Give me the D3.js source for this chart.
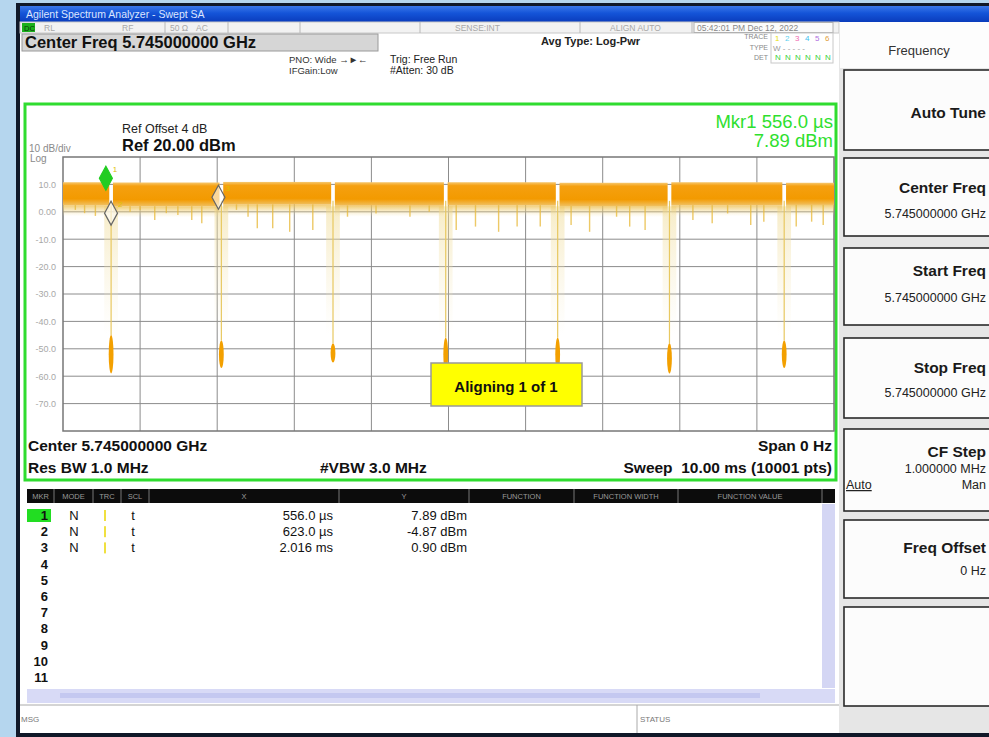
<!DOCTYPE html>
<html>
<head>
<meta charset="utf-8">
<script src="https://cdn.jsdelivr.net/npm/d3@7"></script>
<style>
  body { margin: 0; background: #b5d6ee; }
  svg { display: block; font-family: "Liberation Sans", Arial, sans-serif; }
</style>
</head>
<body>
<script>

// time axis (ms) and level axis (dBm)
var yTickValues = [10, 0, -10, -20, -30, -40, -50, -60, -70];
var yTickLabels = ["10.0", "0.00", "-10.0", "-20.0", "-30.0", "-40.0", "-50.0", "-60.0", "-70.0"];

// burst gaps (ms), level at the bottom of each gap (dBm)
var gapStart = [0.600, 2.030, 3.478, 4.940, 6.392, 7.842, 9.330];
var gapEnd   = [0.648, 2.078, 3.526, 4.988, 6.440, 7.890, 9.378];
var gapBlobTop = [-45, -47, -48, -46, -46, -48, -47];
var gapFloor   = [-59, -57, -55, -58, -58, -59, -57];

// level of the burst band between gaps (dBm)
var bandTop    = [10.8, 10.7, 10.9, 10.8, 10.8, 10.6, 10.8, 10.6];
var bandBottom = [2.4, 2.0, 2.6, 2.2, 2.4, 2.1, 2.4, 2.5];

// downward noise spikes (ms, dBm)
var spikeTime  = [0.16, 0.28, 0.42, 0.87, 1.00, 1.19, 1.34, 1.49, 1.67, 1.80, 2.25, 2.40, 2.52, 2.72, 2.94, 3.24,
                  3.69, 4.06, 4.50, 4.75, 5.10, 5.35, 5.65, 5.89, 6.19, 6.59, 6.83, 7.18, 7.35, 7.55, 8.17, 8.42,
                  8.62, 8.92, 9.09, 9.51, 9.71, 9.86];
var spikeLevel = [0.7, -0.5, -1.5, 0.0, 0.7, -3.0, -0.5, -1.2, -3.0, -4.2, 0.7, -1.8, -6.0, -6.0, -7.3, -6.6,
                  -1.8, -0.6, -1.8, 0.0, -6.6, -5.4, -7.3, -5.4, -5.4, -4.8, -7.3, -1.8, -5.4, -6.6, -3.0, -4.2,
                  -0.6, -4.8, -3.6, -5.4, -3.6, -4.8];

// markers
var mkrNumber = ["1", "2", "3"];
var mkrTime   = [0.556, 0.623, 2.016];
var mkrLevel  = [7.89, -4.87, 0.90];
var mkrXText  = ["556.0 \u00b5s", "623.0 \u00b5s", "2.016 ms"];
var mkrYText  = ["7.89 dBm", "-4.87 dBm", "0.90 dBm"];

// soft keys on the right
var keyLabels = ["Auto Tune", "Center Freq", "Start Freq", "Stop Freq", "CF Step", "Freq Offset", ""];
var keyValues = ["", "5.745000000 GHz", "5.745000000 GHz", "5.745000000 GHz", "1.000000 MHz", "0 Hz", ""];

var W = 989, H = 737;

var svg = d3.select("body").append("svg")
  .attr("width", W)
  .attr("height", H);

var defs = svg.append("defs");
var tg = defs.append("linearGradient").attr("id", "titleGrad")
  .attr("x1", 0).attr("y1", 0).attr("x2", 0).attr("y2", 1);
tg.append("stop").attr("offset", "0%").attr("stop-color", "#3a78ea");
tg.append("stop").attr("offset", "45%").attr("stop-color", "#1454d8");
tg.append("stop").attr("offset", "100%").attr("stop-color", "#0a3cbc");

var bg = defs.append("linearGradient").attr("id", "bandGrad")
  .attr("x1", 0).attr("y1", 0).attr("x2", 0).attr("y2", 1);
bg.append("stop").attr("offset", "0%").attr("stop-color", "#f6c870");
bg.append("stop").attr("offset", "15%").attr("stop-color", "#f5a010");
bg.append("stop").attr("offset", "72%").attr("stop-color", "#f39a00");
bg.append("stop").attr("offset", "100%").attr("stop-color", "#f0c060");

var fg = defs.append("linearGradient").attr("id", "fadeGrad")
  .attr("x1", 0).attr("y1", 0).attr("x2", 0).attr("y2", 1);
fg.append("stop").attr("offset", "0%").attr("stop-color", "#eec050").attr("stop-opacity", 0.8);
fg.append("stop").attr("offset", "100%").attr("stop-color", "#f2e0a0").attr("stop-opacity", 0);

var hg = defs.append("linearGradient").attr("id", "haloGrad")
  .attr("x1", 0).attr("y1", 0).attr("x2", 0).attr("y2", 1);
hg.append("stop").attr("offset", "0%").attr("stop-color", "#f0dc98").attr("stop-opacity", 0.55);
hg.append("stop").attr("offset", "100%").attr("stop-color", "#f4e8c0").attr("stop-opacity", 0);

// window frame
svg.append("rect").attr("x", 16).attr("y", 3).attr("width", W - 16).attr("height", H - 3).attr("fill", "#101828");
svg.append("rect").attr("x", 20).attr("y", 6).attr("width", W - 20).attr("height", 16).attr("fill", "url(#titleGrad)");
svg.append("text").attr("x", 26).attr("y", 18).attr("font-size", 10.5).attr("fill", "#dce6ff")
  .text("Agilent Spectrum Analyzer - Swept SA");

// main white area
svg.append("rect").attr("x", 20).attr("y", 22).attr("width", 819).attr("height", 711).attr("fill", "#ffffff");

// status row
svg.append("rect").attr("x", 20).attr("y", 22).attr("width", 819).attr("height", 11).attr("fill", "#f2f2f2")
  .attr("stroke", "#c8c8c8");
svg.append("rect").attr("x", 22).attr("y", 23).attr("width", 13).attr("height", 9).attr("fill", "#1bb01b");
svg.append("text").attr("x", 24).attr("y", 31).attr("font-size", 7.5).attr("fill", "#0a3a0a").text("DC");
var statusText = [["RL", 44], ["RF", 122], ["50 \u03a9", 170], ["AC", 196], ["SENSE:INT", 455], ["ALIGN AUTO", 610]];
statusText.forEach(function(s) {
  svg.append("text").attr("x", s[1]).attr("y", 31).attr("font-size", 8.5).attr("fill", "#a8a8a8").text(s[0]);
});
[165, 228, 300, 420, 580, 692].forEach(function(sx) {
  svg.append("line").attr("x1", sx).attr("x2", sx).attr("y1", 22).attr("y2", 33).attr("stroke", "#b8b8b8");
});
svg.append("rect").attr("x", 694).attr("y", 22.5).attr("width", 139).attr("height", 10).attr("fill", "#fbfbfb")
  .attr("stroke", "#b0b0b0");
svg.append("text").attr("x", 697).attr("y", 31).attr("font-size", 8.5).attr("fill", "#888")
  .text("05:42:01 PM Dec 12, 2022");

// center freq box
svg.append("rect").attr("x", 22).attr("y", 34).attr("width", 356).attr("height", 17).attr("fill", "#d6d6d6")
  .attr("stroke", "#9a9a9a");
svg.append("text").attr("x", 25).attr("y", 48).attr("font-size", 16.5).attr("font-weight", "bold").attr("fill", "#111")
  .text("Center Freq 5.745000000 GHz");

svg.append("text").attr("x", 289).attr("y", 63).attr("font-size", 9.5).attr("fill", "#333").text("PNO: Wide \u2192\u25ba\u2190");
svg.append("text").attr("x", 289).attr("y", 74).attr("font-size", 9.5).attr("fill", "#333").text("IFGain:Low");
svg.append("text").attr("x", 390).attr("y", 63).attr("font-size", 10.5).attr("fill", "#222").text("Trig: Free Run");
svg.append("text").attr("x", 390).attr("y", 74).attr("font-size", 10.5).attr("fill", "#222").text("#Atten: 30 dB");
svg.append("text").attr("x", 541).attr("y", 45).attr("font-size", 11).attr("font-weight", "bold").attr("fill", "#222")
  .text("Avg Type: Log-Pwr");

// trace / type / det block
[["TRACE", 39], ["TYPE", 50], ["DET", 60]].forEach(function(t) {
  svg.append("text").attr("x", 768).attr("y", t[1]).attr("font-size", 7).attr("text-anchor", "end")
    .attr("fill", "#888").text(t[0]);
});
svg.append("rect").attr("x", 771).attr("y", 33).attr("width", 62).attr("height", 30).attr("fill", "#fff")
  .attr("stroke", "#c8c8c8");
var traceColors = ["#e8e000", "#5ad0f0", "#f06ab0", "#40c0f0", "#b070e0", "#e0a040"];
traceColors.forEach(function(c, i) {
  svg.append("text").attr("x", 775 + i * 10).attr("y", 41).attr("font-size", 8).attr("fill", c).text(i + 1);
  svg.append("text").attr("x", 775 + i * 10).attr("y", 60).attr("font-size", 8).attr("fill", "#40d040").text("N");
});
svg.append("text").attr("x", 773).attr("y", 51).attr("font-size", 8).attr("fill", "#999").text("W   - - - - -");

// plot frame (green)
svg.append("rect").attr("x", 25).attr("y", 104).attr("width", 811).attr("height", 376)
  .attr("fill", "#fff").attr("stroke", "#2fdc2f").attr("stroke-width", 3);

svg.append("text").attr("x", 122).attr("y", 133).attr("font-size", 12.5).attr("fill", "#222").text("Ref Offset 4 dB");
svg.append("text").attr("x", 122).attr("y", 151).attr("font-size", 16.5).attr("font-weight", "bold").attr("fill", "#111")
  .text("Ref 20.00 dBm");
svg.append("text").attr("x", 29).attr("y", 152).attr("font-size", 10).attr("fill", "#8a8a8a").text("10 dB/div");
svg.append("text").attr("x", 30).attr("y", 162).attr("font-size", 10).attr("fill", "#8a8a8a").text("Log");

svg.append("text").attr("x", 833).attr("y", 128).attr("font-size", 18.5).attr("text-anchor", "end")
  .attr("fill", "#2ee02e").text("Mkr1 556.0 \u00b5s");
svg.append("text").attr("x", 833).attr("y", 147).attr("font-size", 18.5).attr("text-anchor", "end")
  .attr("fill", "#2ee02e").text("7.89 dBm");

// scales
var x = d3.scaleLinear().domain([0, 10]).range([63, 834]);
var y = d3.scaleLinear().domain([20, -80]).range([157, 431]);

// graticule
var grid = svg.append("g");
grid.selectAll(".vl").data(x.ticks(10).slice(1, -1)).enter().append("line")
  .attr("x1", function(d) { return x(d); }).attr("x2", function(d) { return x(d); })
  .attr("y1", y(20)).attr("y2", y(-80)).attr("stroke", "#8c8c8c").attr("stroke-width", 1);
grid.selectAll(".hl").data(yTickValues).enter().append("line")
  .attr("x1", x(0)).attr("x2", x(10))
  .attr("y1", function(d) { return y(d); }).attr("y2", function(d) { return y(d); })
  .attr("stroke", "#8c8c8c").attr("stroke-width", 1);
grid.append("rect").attr("x", x(0)).attr("y", y(20)).attr("width", x(10) - x(0)).attr("height", y(-80) - y(20))
  .attr("fill", "none").attr("stroke", "#777").attr("stroke-width", 1.5);

var yAxis = svg.append("g")
  .attr("transform", "translate(" + (x(0) - 4) + ",0)")
  .call(d3.axisLeft(y).tickValues(yTickValues).tickSize(0)
    .tickFormat(function(d, i) { return yTickLabels[i]; }));
yAxis.select(".domain").remove();
yAxis.selectAll("text").attr("fill", "#a8a8a8").attr("font-size", 9)
  .attr("font-family", "\"Liberation Sans\", Arial, sans-serif");

// trace
var trace = svg.append("g");
var segStart = [0].concat(gapEnd);
var segEnd = gapStart.concat([10]);

// soft halos around gaps
trace.selectAll(".halo").data(gapStart).enter().append("rect")
  .attr("x", function(d, i) { return x(d) - 5; })
  .attr("width", function(d, i) { return x(gapEnd[i]) - x(d) + 10; })
  .attr("y", y(2))
  .attr("height", function(d, i) { return y(-45) - y(2); })
  .attr("fill", "url(#haloGrad)");

// fade under the band
trace.selectAll(".fade").data(segStart).enter().append("rect")
  .attr("x", function(d) { return x(d); })
  .attr("width", function(d, i) { return x(segEnd[i]) - x(d); })
  .attr("y", function(d, i) { return y(bandBottom[i]); })
  .attr("height", function(d, i) { return y(bandBottom[i] - 4) - y(bandBottom[i]); })
  .attr("fill", "url(#fadeGrad)");

// spikes
trace.selectAll(".spike").data(spikeTime).enter().append("line")
  .attr("x1", function(d) { return x(d); }).attr("x2", function(d) { return x(d); })
  .attr("y1", y(3)).attr("y2", function(d, i) { return y(spikeLevel[i]); })
  .attr("stroke", "#e9bc40").attr("stroke-width", 1.4).attr("opacity", 0.8);

// band
trace.selectAll(".band").data(segStart).enter().append("rect")
  .attr("x", function(d) { return x(d); })
  .attr("width", function(d, i) { return x(segEnd[i]) - x(d); })
  .attr("y", function(d, i) { return y(bandTop[i]); })
  .attr("height", function(d, i) { return y(bandBottom[i]) - y(bandTop[i]); })
  .attr("fill", "url(#bandGrad)");

// thin drop into each gap
trace.selectAll(".drop").data(gapStart).enter().append("line")
  .attr("x1", function(d, i) { return x((d + gapEnd[i]) / 2); })
  .attr("x2", function(d, i) { return x((d + gapEnd[i]) / 2); })
  .attr("y1", y(4)).attr("y2", function(d, i) { return y(gapBlobTop[i]); })
  .attr("stroke", "#e8c860").attr("stroke-width", 1.2);

// orange blob at the bottom of each gap
trace.selectAll(".blob").data(gapStart).enter().append("ellipse")
  .attr("cx", function(d, i) { return x((d + gapEnd[i]) / 2); })
  .attr("cy", function(d, i) { return (y(gapBlobTop[i]) + y(gapFloor[i])) / 2; })
  .attr("rx", 2.4)
  .attr("ry", function(d, i) { return (y(gapFloor[i]) - y(gapBlobTop[i])) / 2; })
  .attr("fill", "#f3a000");

// markers
var mk = svg.append("g");
mkrTime.forEach(function(t, i) {
  var px = x(t), py = y(mkrLevel[i]);
  var path = "M" + px + "," + py + " L" + (px - 6.5) + "," + (py - 12) + " L" + px + "," + (py - 24)
    + " L" + (px + 6.5) + "," + (py - 12) + " Z";
  mk.append("path").attr("d", path)
    .attr("fill", i === 0 ? "#22cc22" : "#ffffff")
    .attr("fill-opacity", i === 0 ? 1 : 0.6)
    .attr("stroke", i === 0 ? "#22cc22" : "#666")
    .attr("stroke-width", 1.2);
  mk.append("text").attr("x", px + 7).attr("y", py - 18).attr("font-size", 8).attr("fill", "#e0c000")
    .text(mkrNumber[i]);
});

// aligning message
svg.append("rect").attr("x", 431).attr("y", 363).attr("width", 151).attr("height", 43)
  .attr("fill", "#ffff00").attr("stroke", "#999").attr("stroke-width", 1.5);
svg.append("text").attr("x", 506).attr("y", 392).attr("text-anchor", "middle").attr("font-size", 15)
  .attr("font-weight", "bold").attr("fill", "#111").text("Aligning 1 of 1");

// bottom annotations
svg.append("text").attr("x", 28).attr("y", 451).attr("font-size", 15.5).attr("font-weight", "bold").attr("fill", "#111")
  .text("Center 5.745000000 GHz");
svg.append("text").attr("x", 28).attr("y", 473).attr("font-size", 15.5).attr("font-weight", "bold").attr("fill", "#111")
  .text("Res BW 1.0 MHz");
svg.append("text").attr("x", 320).attr("y", 473).attr("font-size", 15.5).attr("font-weight", "bold").attr("fill", "#111")
  .text("#VBW 3.0 MHz");
svg.append("text").attr("x", 832).attr("y", 451).attr("font-size", 15.5).attr("font-weight", "bold").attr("text-anchor", "end")
  .attr("fill", "#111").text("Span 0 Hz");
svg.append("text").attr("x", 832).attr("y", 473).attr("font-size", 15.5).attr("font-weight", "bold").attr("text-anchor", "end")
  .attr("fill", "#111").attr("xml:space", "preserve").text("Sweep  10.00 ms (10001 pts)");

// marker table
var colEdges = [27, 54, 93, 121, 149, 339, 469, 574, 678, 822];
var colNames = ["MKR", "MODE", "TRC", "SCL", "X", "Y", "FUNCTION", "FUNCTION WIDTH", "FUNCTION VALUE"];
svg.append("rect").attr("x", 27).attr("y", 489).attr("width", 808).attr("height", 14).attr("fill", "#0c0c0c");
colNames.forEach(function(c, i) {
  svg.append("line").attr("x1", colEdges[i + 1]).attr("x2", colEdges[i + 1]).attr("y1", 489).attr("y2", 503)
    .attr("stroke", "#777");
  svg.append("text").attr("x", (colEdges[i] + colEdges[i + 1]) / 2).attr("y", 499).attr("text-anchor", "middle")
    .attr("font-size", 7.5).attr("fill", "#9a9a9a").text(c);
});

var rowY = d3.scaleLinear().domain([1, 11]).range([520, 682]);
svg.append("rect").attr("x", 27).attr("y", rowY(1) - 11).attr("width", 24).attr("height", 13).attr("fill", "#22dd22");
d3.range(1, 12).forEach(function(n) {
  svg.append("text").attr("x", 48).attr("y", rowY(n)).attr("text-anchor", "end").attr("font-size", 13)
    .attr("font-weight", "bold").attr("fill", "#111").text(n);
});
mkrXText.forEach(function(t, i) {
  var ry = rowY(i + 1);
  svg.append("text").attr("x", 74).attr("y", ry).attr("text-anchor", "middle").attr("font-size", 13).attr("fill", "#111").text("N");
  svg.append("rect").attr("x", 104).attr("y", ry - 10).attr("width", 2).attr("height", 11).attr("fill", "#f0e040");
  svg.append("text").attr("x", 133).attr("y", ry).attr("text-anchor", "middle").attr("font-size", 13).attr("fill", "#111").text("t");
  svg.append("text").attr("x", 333).attr("y", ry).attr("text-anchor", "end").attr("font-size", 13).attr("fill", "#111").text(t);
  svg.append("text").attr("x", 467).attr("y", ry).attr("text-anchor", "end").attr("font-size", 13).attr("fill", "#111").text(mkrYText[i]);
});

// scroll bars
svg.append("rect").attr("x", 822).attr("y", 504).attr("width", 13).attr("height", 184).attr("fill", "#d4d6f4");
svg.append("rect").attr("x", 27).attr("y", 689).attr("width", 808).attr("height", 14).attr("fill", "#d8daf6");
svg.append("rect").attr("x", 60).attr("y", 693).attr("width", 700).attr("height", 5).attr("fill", "#c4c8f0");

// message bar
svg.append("line").attr("x1", 20).attr("x2", 839).attr("y1", 705).attr("y2", 705).attr("stroke", "#aaa");
svg.append("text").attr("x", 21).attr("y", 722).attr("font-size", 8).attr("fill", "#777").text("MSG");
svg.append("line").attr("x1", 637).attr("x2", 637).attr("y1", 705).attr("y2", 733).attr("stroke", "#aaa");
svg.append("text").attr("x", 640).attr("y", 722).attr("font-size", 8).attr("fill", "#777").text("STATUS");

// right panel
svg.append("rect").attr("x", 839).attr("y", 22).attr("width", 150).attr("height", 711).attr("fill", "#e6e6e6");
svg.append("rect").attr("x", 840).attr("y", 22).attr("width", 149).attr("height", 46).attr("fill", "#fdfdfd");
svg.append("text").attr("x", 919).attr("y", 55).attr("text-anchor", "middle").attr("font-size", 13)
  .attr("fill", "#333").text("Frequency");

var keyTop = [70, 158, 248, 338, 429, 520, 607];
var keyBottom = [150, 236, 325, 418, 511, 598, 706];
var keyLabelY = [118, 193, 276, 373, 457, 553];
var keyValueY = [0, 218, 302, 397, 473, 575];
keyTop.forEach(function(t, i) {
  svg.append("rect").attr("x", 844).attr("y", t).attr("width", 150).attr("height", keyBottom[i] - t)
    .attr("fill", "#fcfcfc").attr("stroke", "#2a2a2a").attr("stroke-width", 1.6);
  if (keyLabels[i]) {
    svg.append("text").attr("x", 986).attr("y", keyLabelY[i]).attr("text-anchor", "end").attr("font-size", 15.5)
      .attr("font-weight", "bold").attr("fill", "#1a1a1a").text(keyLabels[i]);
  }
  if (keyValues[i]) {
    svg.append("text").attr("x", 986).attr("y", keyValueY[i]).attr("text-anchor", "end")
      .attr("font-size", 12.5).attr("fill", "#222").text(keyValues[i]);
  }
});
svg.append("text").attr("x", 846).attr("y", 489).attr("font-size", 12.5).attr("fill", "#222")
  .attr("text-decoration", "underline").text("Auto");
svg.append("text").attr("x", 986).attr("y", 489).attr("text-anchor", "end").attr("font-size", 12.5)
  .attr("fill", "#222").text("Man");

</script>
</body>
</html>
